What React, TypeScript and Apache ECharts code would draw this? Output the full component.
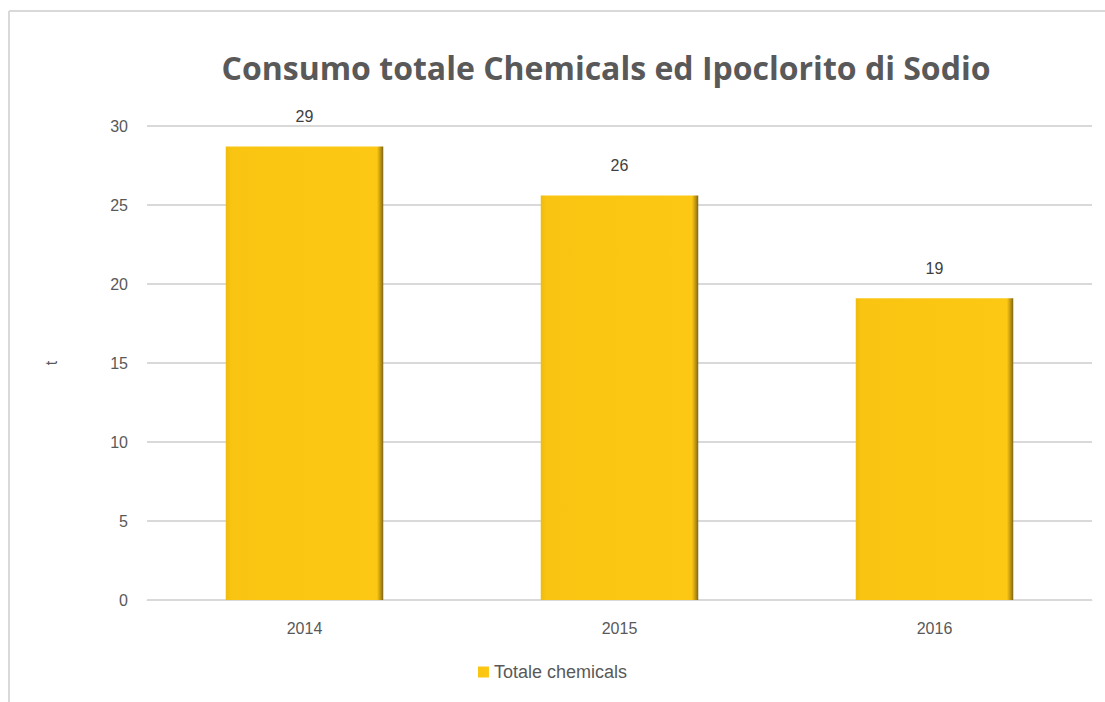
import React, { useEffect, useRef } from "react";
import * as echarts from "echarts";

const categories = ["2014", "2015", "2016"];
const values = [28.7, 25.6, 19.1];
const seriesName = "Totale chemicals";
const titleText = "Consumo totale Chemicals ed Ipoclorito di Sodio";

export default function App() {
  const ref = useRef<HTMLDivElement>(null);
  useEffect(() => {
    const chart = echarts.init(ref.current!, null, { renderer: "svg" });
    const barColor = new echarts.graphic.LinearGradient(0, 0, 1, 0, [
      { offset: 0, color: "#F0BC0C" },
      { offset: 0.04, color: "#FAC512" },
      { offset: 0.96, color: "#FCC813" },
      { offset: 0.985, color: "#B58E10" },
      { offset: 1, color: "#7a6420" },
    ]);
    chart.setOption({
      animation: false,
      backgroundColor: "#ffffff",
      title: {
        text: titleText,
        left: 601,
        textAlign: "center",
        top: 46,
        textStyle: {
          fontFamily: "Open Sans",
          fontWeight: "bold",
          fontSize: 32,
          color: "#595959",
        },
      },
      grid: { left: 147, right: 13, top: 126, bottom: 102, containLabel: false },
      legend: {
        bottom: 16,
        left: "center",
        itemWidth: 11,
        itemHeight: 11,
        icon: "rect",
        itemGap: 4,
        textStyle: { fontFamily: "Liberation Sans", fontSize: 18, color: "#595959" },
        data: [seriesName],
      },
      xAxis: {
        type: "category",
        data: categories,
        axisLine: { lineStyle: { color: "#d9d9d9", width: 1 } },
        axisTick: { show: false },
        axisLabel: { fontFamily: "Liberation Sans", fontSize: 16, color: "#595959", margin: 20 },
      },
      yAxis: {
        type: "value",
        min: 0,
        max: 30,
        interval: 5,
        name: "t",
        nameLocation: "middle",
        nameGap: 88,
        nameTextStyle: { fontFamily: "Liberation Sans", fontSize: 16, color: "#595959" },
        axisLabel: { fontFamily: "Liberation Sans", fontSize: 16, color: "#595959", margin: 19 },
        splitLine: { lineStyle: { color: "#d9d9d9", width: 2 } },
        axisLine: { show: false },
        axisTick: { show: false },
      },
      series: [
        {
          name: seriesName,
          type: "bar",
          data: values,
          barWidth: "50%",
          itemStyle: { color: barColor },
          label: {
            show: true,
            position: "top",
            distance: 22,
            fontFamily: "Liberation Sans",
            fontSize: 16,
            color: "#404040",
            formatter: (p: any) => Math.round(p.value).toString(),
          },
        },
      ],
      graphic: [
        {
          type: "line",
          shape: { x1: 9, y1: 11, x2: 1105, y2: 11 },
          style: { stroke: "#d9d9d9", lineWidth: 2 },
        },
        {
          type: "line",
          shape: { x1: 9, y1: 11, x2: 9, y2: 702 },
          style: { stroke: "#d9d9d9", lineWidth: 2 },
        },
      ],
    });
    return () => chart.dispose();
  }, []);
  return <div ref={ref} style={{ width: 1105, height: 702, position: "absolute", left: 0, top: 0 }} />;
}
